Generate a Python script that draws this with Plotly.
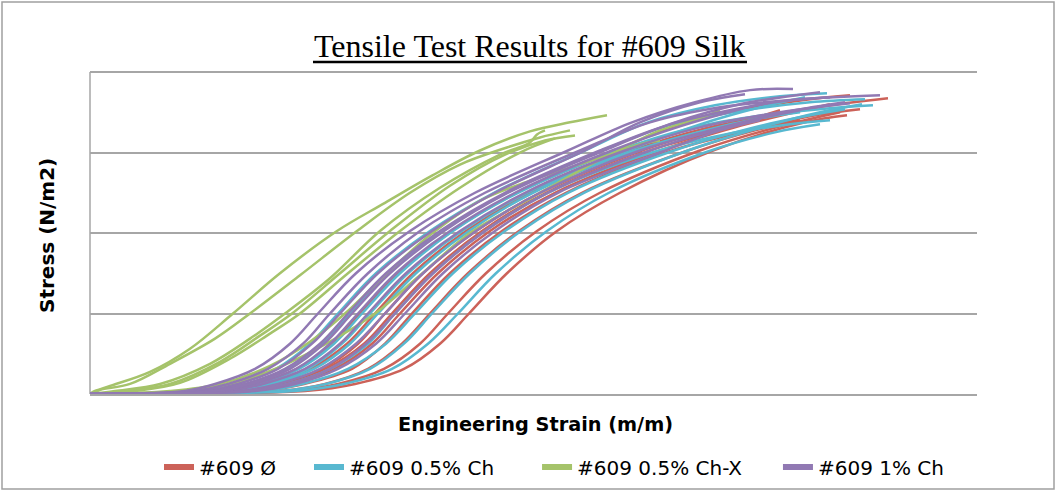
import plotly.graph_objects as go

# ---------------- data ----------------
# strain in arbitrary units (axis 0..887), stress in arbitrary units (gridlines every 80)
RED_STRAIN = [
    [0, 86, 132, 166, 207, 242, 270, 308, 362, 427, 525, 590, 660, 720, 760],
    [0, 92, 142, 178, 220, 257, 285, 323, 376, 440, 542, 615, 690, 755, 798],
    [0, 98, 156, 194, 236, 274, 302, 340, 392, 456, 560, 630, 685, 725],
    [0, 105, 170, 214, 262, 295, 322, 360, 412, 476, 582, 660, 720, 770],
    [0, 115, 190, 235, 278, 312, 340, 378, 429, 492, 598, 665, 710],
    [0, 120, 200, 248, 294, 330, 358, 396, 447, 510, 610, 690, 750],
    [0, 120, 215, 265, 314, 350, 379, 417, 467, 530, 623, 715, 757],
    [0, 100, 160, 200, 244, 282, 310, 348, 400, 465, 570, 645, 705, 740],
    [0, 95, 150, 188, 232, 268, 295, 333, 386, 450, 552, 620, 670, 690],
]
RED_STRESS = [
    [0, 1, 3, 10, 25, 50, 80, 120, 162, 200, 242, 268, 284, 293, 297],
    [0, 1, 3, 10, 25, 50, 80, 120, 162, 200, 242, 264, 279, 289, 294],
    [0, 1, 3, 10, 25, 50, 80, 120, 162, 200, 242, 262, 277, 285],
    [0, 1, 3, 10, 25, 50, 80, 120, 162, 200, 242, 262, 276, 283],
    [0, 1, 3, 10, 25, 50, 80, 120, 162, 200, 242, 262, 272],
    [0, 1, 3, 10, 25, 50, 80, 120, 162, 200, 242, 266, 280],
    [0, 1, 3, 10, 25, 50, 80, 120, 162, 200, 242, 270, 277],
    [0, 1, 3, 10, 25, 50, 80, 120, 162, 200, 242, 265, 280, 288],
    [0, 1, 3, 10, 25, 50, 80, 120, 162, 200, 242, 263, 276, 282],
]

CYAN_STRAIN = [
    [0, 75, 115, 146, 186, 220, 248, 286, 340, 404, 495, 558, 625, 690, 737],
    [0, 82, 124, 157, 197, 232, 260, 298, 352, 417, 512, 582, 655, 720, 775],
    [0, 88, 134, 168, 209, 244, 272, 310, 363, 428, 528, 600, 680, 740, 783],
    [0, 94, 146, 182, 224, 260, 288, 326, 379, 443, 545, 615, 670, 710],
    [0, 100, 160, 198, 240, 278, 305, 343, 395, 458, 562, 635, 700, 740],
    [0, 115, 190, 236, 280, 314, 342, 380, 431, 494, 598, 675, 730, 772],
    [0, 120, 205, 254, 302, 338, 368, 406, 457, 519, 615, 685, 730],
    [0, 105, 170, 212, 258, 296, 325, 363, 415, 478, 584, 660, 720, 755],
    [0, 92, 140, 176, 218, 252, 280, 318, 372, 437, 538, 610, 670, 715],
]
CYAN_STRESS = [
    [0, 1, 3, 10, 25, 50, 80, 120, 162, 200, 242, 270, 287, 296, 299],
    [0, 1, 3, 10, 25, 50, 80, 120, 162, 200, 242, 268, 282, 290, 293],
    [0, 1, 3, 10, 25, 50, 80, 120, 162, 200, 242, 264, 278, 284, 287],
    [0, 1, 3, 10, 25, 50, 80, 120, 162, 200, 242, 262, 274, 280],
    [0, 1, 3, 10, 25, 50, 80, 120, 162, 200, 240, 258, 268, 272],
    [0, 1, 3, 10, 25, 50, 80, 120, 162, 200, 242, 266, 280, 288],
    [0, 1, 3, 10, 25, 50, 80, 120, 162, 200, 240, 260, 268],
    [0, 1, 3, 10, 25, 50, 80, 120, 162, 200, 242, 264, 277, 283],
    [0, 1, 3, 10, 25, 50, 80, 120, 162, 200, 242, 268, 285, 295],
]

GREEN_STRAIN = [
    [0, 5, 20, 60, 100, 143, 190, 247, 295, 342, 390, 440, 480, 517],
    [0, 10, 40, 80, 125, 160, 210, 267, 320, 370, 417, 450, 480],
    [0, 25, 70, 120, 160, 195, 240, 290, 350, 410, 440, 447, 455],
    [0, 35, 80, 130, 170, 202, 250, 300, 360, 415, 455, 485],
    [0, 45, 90, 140, 180, 210, 258, 310, 370, 430, 465],
    [0, 90, 140, 190, 240, 285, 330, 380, 443, 497, 530, 570, 610, 630],
    [0, 80, 130, 180, 220, 255, 295, 340, 390, 440, 470, 520, 553, 570],
]
GREEN_STRESS = [
    [0, 3, 8, 22, 45, 80, 120, 162, 190, 217, 242, 261, 270, 277],
    [0, 4, 10, 30, 55, 80, 118, 162, 200, 228, 245, 255, 262],
    [0, 3, 10, 30, 55, 80, 115, 162, 205, 238, 250, 258, 262],
    [0, 3, 10, 32, 58, 80, 120, 162, 207, 238, 252, 257],
    [0, 3, 11, 35, 60, 80, 120, 162, 205, 240, 254],
    [0, 3, 10, 27, 52, 80, 118, 160, 196, 226, 243, 262, 274, 282],
    [0, 3, 10, 28, 52, 80, 118, 158, 192, 212, 222, 238, 249, 252],
]

PURPLE_STRAIN = [
    [0, 60, 95, 125, 165, 200, 228, 266, 320, 385, 478, 542, 605, 660, 703],
    [0, 70, 105, 138, 178, 213, 240, 278, 330, 395, 490, 560, 630, 710, 790],
    [0, 75, 115, 148, 188, 222, 250, 288, 342, 405, 495, 550, 610, 655],
    [0, 80, 122, 155, 195, 230, 258, 296, 350, 415, 510, 580, 650, 700, 740],
    [0, 85, 130, 165, 206, 240, 268, 306, 360, 425, 522, 590, 650, 680],
    [0, 90, 138, 173, 215, 250, 278, 316, 370, 435, 535, 610, 690, 760],
    [0, 95, 150, 188, 230, 266, 295, 333, 386, 450, 550, 620, 675, 710],
    [0, 105, 165, 205, 248, 286, 315, 353, 405, 468, 570, 630, 670],
    [0, 82, 126, 160, 200, 234, 262, 300, 354, 418, 514, 585, 650, 730],
    [0, 100, 160, 198, 240, 276, 305, 343, 395, 458, 560, 635, 700, 755],
]
PURPLE_STRESS = [
    [0, 1, 3, 10, 25, 50, 80, 120, 162, 200, 242, 270, 290, 302, 303],
    [0, 1, 3, 10, 25, 50, 80, 120, 162, 200, 242, 270, 285, 293, 297],
    [0, 1, 3, 10, 25, 50, 80, 120, 162, 200, 242, 270, 290, 298],
    [0, 1, 3, 10, 25, 50, 80, 120, 162, 200, 242, 268, 284, 292, 295],
    [0, 1, 3, 10, 25, 50, 80, 120, 162, 200, 242, 266, 283, 290],
    [0, 1, 3, 10, 25, 50, 80, 120, 162, 200, 242, 265, 280, 289],
    [0, 1, 3, 10, 25, 50, 80, 120, 162, 200, 242, 262, 275, 282],
    [0, 1, 3, 10, 25, 50, 80, 120, 162, 200, 240, 262, 272],
    [0, 1, 3, 10, 25, 50, 80, 120, 162, 200, 242, 270, 288, 300],
    [0, 1, 3, 10, 25, 50, 80, 120, 162, 200, 242, 265, 281, 290],
]

SERIES_NAMES = ["#609 Ø", "#609 0.5% Ch", "#609 0.5% Ch-X", "#609 1% Ch"]
SERIES_COLORS = ["#CC6259", "#58B8D0", "#A5C36A", "#9179B3"]

TITLE = "Tensile Test Results for #609 Silk"
X_TITLE = "Engineering Strain (m/m)"
Y_TITLE = "Stress (N/m2)"

# ---------------- figure ----------------
fig = go.Figure()
series = [
    (RED_STRAIN, RED_STRESS),
    (CYAN_STRAIN, CYAN_STRESS),
    (GREEN_STRAIN, GREEN_STRESS),
    (PURPLE_STRAIN, PURPLE_STRESS),
]
for (xs_list, ys_list), color in zip(series, SERIES_COLORS):
    for xs, ys in zip(xs_list, ys_list):
        fig.add_trace(go.Scatter(
            x=xs, y=ys, mode="lines",
            line=dict(color=color, width=2.5, shape="spline", smoothing=1.0),
            showlegend=False, hoverinfo="skip",
        ))

legend_names = ["legend", "legend2", "legend3", "legend4"]
legend_x = [0.0778, 0.2469, 0.5040, 0.7756]
for name, color, lg in zip(SERIES_NAMES, SERIES_COLORS, legend_names):
    fig.add_trace(go.Scatter(
        x=[None], y=[None], mode="lines", name=name,
        line=dict(color=color, width=6), legend=lg,
    ))

# plot area: x 90..977 px, y 69..394 px (top gridline at 72)
PH = 325.0
def py(p):
    return (394 - p) / PH

grid = "#A6A6A6"
legend_font = dict(family="DejaVu Sans", size=20, color="#000000")
layout_legends = {}
for lg, lx in zip(legend_names, legend_x):
    layout_legends[lg] = dict(
        x=lx, y=py(467), xanchor="left", yanchor="middle",
        orientation="h", font=legend_font, bgcolor="rgba(0,0,0,0)",
        borderwidth=0,
    )

fig.update_layout(
    width=1057, height=491, autosize=False,
    margin=dict(l=90, r=80, t=69, b=97, pad=0, autoexpand=False),
    paper_bgcolor="white", plot_bgcolor="white",
    showlegend=True,
    xaxis=dict(range=[0, 887], showgrid=False, showticklabels=False, ticks="",
               showline=True, linecolor=grid, linewidth=1.5, zeroline=False,
               layer="below traces", fixedrange=True),
    yaxis=dict(range=[0, 323], tick0=0, dtick=80, showgrid=True, gridcolor=grid,
               gridwidth=1.5, showticklabels=False, ticks="", showline=False,
               zeroline=False, layer="below traces", fixedrange=True),
    **layout_legends,
)

# left axis line from bottom to top gridline
fig.add_shape(type="line", xref="paper", yref="y", x0=0, x1=0, y0=0, y1=320,
              line=dict(color=grid, width=1.5), layer="below")

# title, axis titles
fig.add_annotation(text=TITLE, xref="paper", yref="paper", x=0.496, y=py(46),
                   xanchor="center", yanchor="middle", showarrow=False,
                   font=dict(family="Liberation Serif", size=32, color="#000000"))
fig.add_shape(type="line", xref="paper", yref="paper", x0=0.2514, x1=0.7407,
              y0=py(62), y1=py(62), line=dict(color="#000000", width=2.5))
fig.add_annotation(text="<b>" + X_TITLE + "</b>", xref="paper", yref="paper",
                   x=0.5017, y=py(424), xanchor="center", yanchor="middle",
                   showarrow=False,
                   font=dict(family="DejaVu Sans", size=19.3, color="#000000"))
fig.add_annotation(text="<b>" + Y_TITLE + "</b>", xref="paper", yref="paper",
                   x=-0.0485, y=py(235), xanchor="center", yanchor="middle",
                   textangle=-90, showarrow=False,
                   font=dict(family="DejaVu Sans", size=20, color="#000000"))

# outer chart border
fig.add_shape(type="rect", xref="paper", yref="paper",
              x0=(2 - 90) / 887, x1=(1054 - 90) / 887,
              y0=py(489), y1=py(2),
              line=dict(color="#A0A0A0", width=1.5), layer="below")

fig.write_html("out.html", config={"displayModeBar": False},
               post_script="document.body.style.margin='0';")
